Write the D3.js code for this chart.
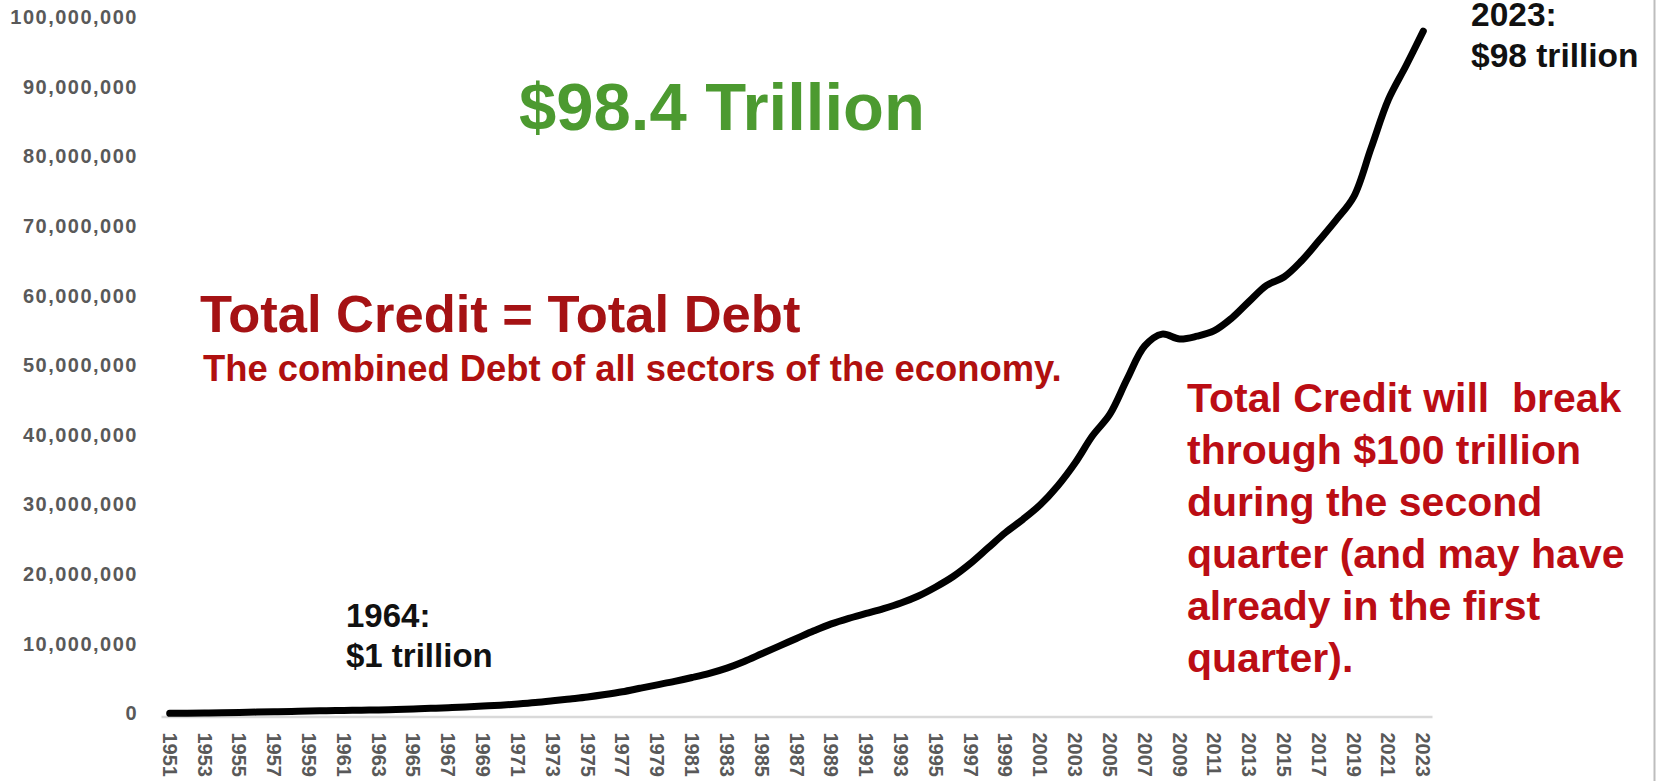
<!DOCTYPE html>
<html>
<head>
<meta charset="utf-8">
<script src="https://cdn.jsdelivr.net/npm/d3@7"></script>
<style>
  html, body { margin: 0; padding: 0; background: #ffffff; }
  svg { display: block; }
  text { font-family: "Liberation Sans", Arial, sans-serif; }
</style>
</head>
<body>
<svg id="chart" width="1659" height="781"></svg>
<script>
// Total credit market debt outstanding, millions of dollars, 1951-2023
const years = d3.range(1951, 2024);
const totalCredit = [
  450000, 480000, 510000, 550000, 590000, 630000, 670000, 720000, 780000, 830000,
  870000, 910000, 950000, 1000000, 1080000, 1170000, 1270000, 1380000, 1500000, 1630000,
  1800000, 2000000, 2250000, 2520000, 2800000, 3150000, 3550000, 4050000, 4550000, 5050000,
  5600000, 6200000, 6950000, 7900000, 9000000, 10100000, 11200000, 12300000, 13300000, 14100000,
  14800000, 15500000, 16300000, 17300000, 18600000, 20100000, 22000000, 24200000, 26400000, 28300000,
  30400000, 33100000, 36400000, 40300000, 43400000, 48500000, 53200000, 54900000, 54200000, 54600000,
  55400000, 57200000, 59600000, 61900000, 63100000, 65400000, 68300000, 71300000, 74600000, 81600000,
  88600000, 93400000, 98400000
];
const yTicks = [0, 10000000, 20000000, 30000000, 40000000, 50000000, 60000000, 70000000, 80000000, 90000000, 100000000];
const xTickYears = years.filter((y, i) => i % 2 === 0);

const headline = "$98.4 Trillion";
const titleText = "Total Credit = Total Debt";
const subtitleText = "The combined Debt of all sectors of the economy.";
const noteLines = [
  "Total Credit will  break",
  "through $100 trillion",
  "during the second",
  "quarter (and may have",
  "already in the first",
  "quarter)."
];
const startLabel = ["1964:", "$1 trillion"];
const endLabel = ["2023:", "$98 trillion"];

const svg = d3.select("#chart");
const W = 1659, H = 781;
const plot = { left: 161, right: 1432, top: 20, bottom: 716.5 };

const x = d3.scaleBand().domain(years).range([plot.left, plot.right]).paddingInner(0).paddingOuter(0);
const xc = yr => x(yr) + x.bandwidth() / 2;
const y = d3.scaleLinear().domain([0, 100000000]).range([plot.bottom, plot.top]);

svg.append("rect").attr("width", W).attr("height", H).attr("fill", "#ffffff");

// right frame edge
svg.append("line")
  .attr("x1", 1654.5).attr("x2", 1654.5).attr("y1", 0).attr("y2", H)
  .attr("stroke", "#bdbdbd").attr("stroke-width", 2);

// value axis labels
const yAxis = d3.axisLeft(y).tickValues(yTicks).tickFormat(d3.format(",")).tickSize(0).tickPadding(0);
const gy = svg.append("g").attr("transform", "translate(138,0)").call(yAxis);
gy.select(".domain").remove();
gy.selectAll("text")
  .attr("fill", "#595959")
  .attr("font-size", 20)
  .attr("font-weight", "bold")
  .attr("letter-spacing", "1.5px")
  .attr("dy", "0.17em");

// category axis
const xAxis = d3.axisBottom(x).tickValues(xTickYears).tickSize(0).tickPadding(0);
const gx = svg.append("g").attr("transform", `translate(0,${plot.bottom})`).call(xAxis);
gx.select(".domain").attr("stroke", "#d9d9d9").attr("stroke-width", 2.5);
gx.selectAll("text")
  .attr("fill", "#595959")
  .attr("font-size", 20)
  .attr("font-weight", "bold")
  .attr("text-anchor", "start")
  .attr("transform", "rotate(90)")
  .attr("x", 16)
  .attr("y", 0)
  .attr("dy", "0.35em");

// series line
const line = d3.line()
  .x((d, i) => xc(years[i]))
  .y(d => y(d))
  .curve(d3.curveCatmullRom.alpha(0.5));

svg.append("path")
  .datum(totalCredit)
  .attr("d", line)
  .attr("fill", "none")
  .attr("stroke", "#000000")
  .attr("stroke-width", 7)
  .attr("stroke-linejoin", "round")
  .attr("stroke-linecap", "round");

// headline figure
svg.append("text")
  .attr("x", 519).attr("y", 130)
  .attr("font-size", 67).attr("font-weight", "bold")
  .attr("fill", "#4c9a30")
  .text(headline);

svg.append("text")
  .attr("x", 200).attr("y", 331.5)
  .attr("font-size", 52.5).attr("font-weight", "bold")
  .attr("fill", "#a51214")
  .text(titleText);

svg.append("text")
  .attr("x", 203).attr("y", 381)
  .attr("font-size", 36.4).attr("font-weight", "bold")
  .attr("fill", "#b0100f")
  .text(subtitleText);

const note = svg.append("text")
  .attr("font-size", 41).attr("font-weight", "bold")
  .attr("fill", "#bb0d14")
  .style("white-space", "pre");
noteLines.forEach((t, i) => {
  note.append("tspan").attr("x", 1187).attr("y", 412 + i * 52).text(t);
});

// endpoint annotations
const startG = svg.append("text").attr("font-size", 33).attr("font-weight", "bold").attr("fill", "#111111");
startLabel.forEach((t, i) => startG.append("tspan").attr("x", 346).attr("y", 627 + i * 40).text(t));

const endG = svg.append("text").attr("font-size", 33.5).attr("font-weight", "bold").attr("fill", "#111111");
endLabel.forEach((t, i) => endG.append("tspan").attr("x", 1471).attr("y", 26 + i * 41).text(t));
</script>
</body>
</html>
